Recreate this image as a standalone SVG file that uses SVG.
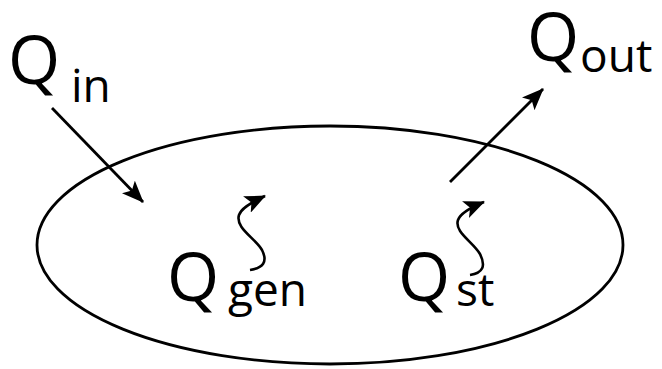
<svg xmlns="http://www.w3.org/2000/svg" width="662" height="369" viewBox="0 0 662 369">
<style>
.line{fill:none;stroke:#000;stroke-width:2.8}
.sq{fill:none;stroke:#000;stroke-width:2.6}
.big{font-family:"Open Sans","Noto Sans",sans-serif;font-size:67px;fill:#000}
.sub{font-family:"Open Sans","Noto Sans",sans-serif;font-size:46px;fill:#000}
</style>
<defs>
<marker id="ah" viewBox="0 0 22 18" refX="21" refY="9" markerWidth="22" markerHeight="18" markerUnits="userSpaceOnUse" orient="auto">
<path d="M0,0 L22,9 L0,18 L5,9 Z" fill="#000"/>
</marker>
<marker id="ahs" viewBox="0 0 21 18" refX="20" refY="9" markerWidth="21" markerHeight="18" markerUnits="userSpaceOnUse" orient="auto">
<path d="M0,0 L21,9 L0,18 L5,9 Z" fill="#000"/>
</marker>
</defs>
<g id="system">
<ellipse cx="330" cy="245" rx="293" ry="119" class="line"/>
</g>
<g id="connectors">
<line x1="52" y1="108" x2="143" y2="202" class="line" marker-end="url(#ah)"/>
<line x1="450" y1="182" x2="543" y2="89" class="line" marker-end="url(#ah)"/>
<path d="M250,270 C263,268 268,262 262,250 C255,238 235,228 239,215 C241,209 248,204 265,196" class="sq" marker-end="url(#ahs)"/>
<path d="M470,275 C483,273 486,266 480,254 C473,242 454,232 458,220 C460,214 467,209 484,202" class="sq" marker-end="url(#ahs)"/>
</g>
<g id="q-in">
<text x="8" y="84" class="big">Q</text>
<text x="71" y="102" class="sub">in</text>
</g>
<g id="q-out">
<text x="527" y="61" class="big">Q</text>
<text x="580" y="72" class="sub">out</text>
</g>
<g id="q-gen">
<text x="167" y="301" class="big">Q</text>
<text x="228" y="306" class="sub">gen</text>
</g>
<g id="q-st">
<text x="398" y="301" class="big">Q</text>
<text x="456" y="306" class="sub">st</text>
</g>
</svg>
